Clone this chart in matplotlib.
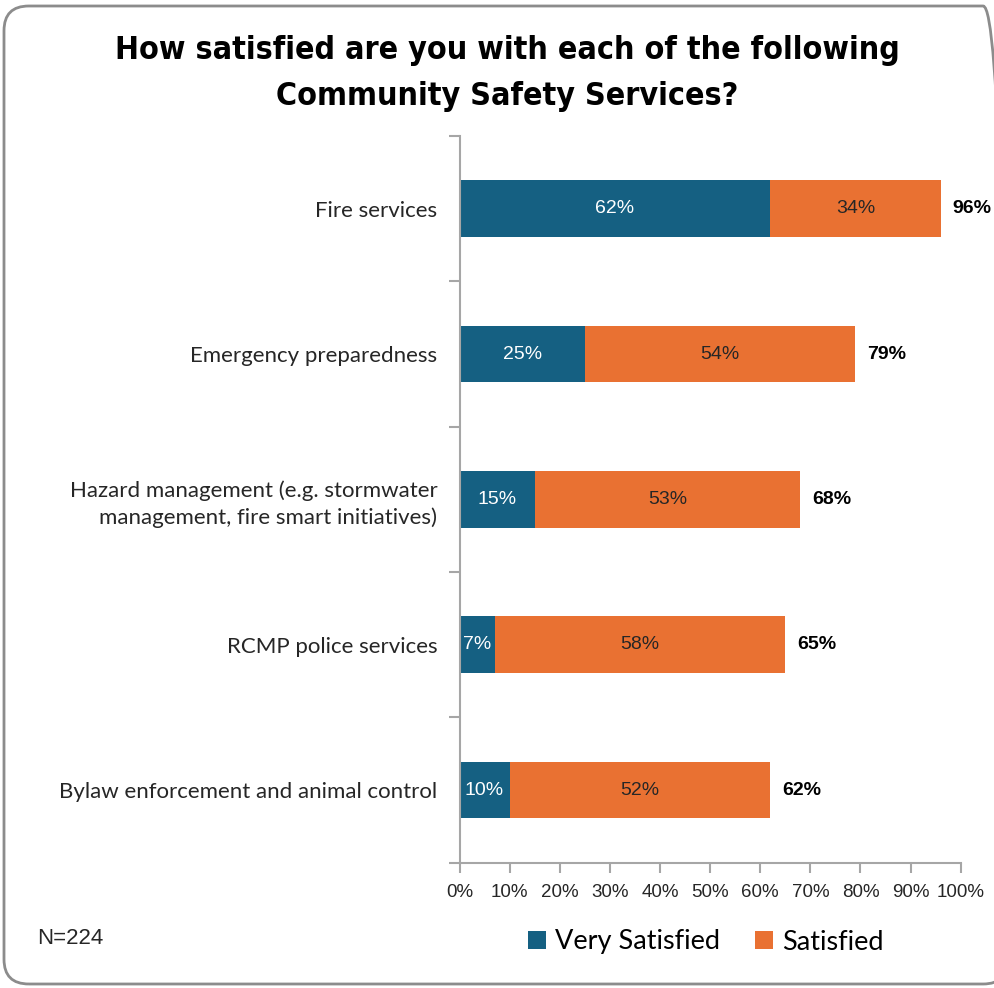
import matplotlib
matplotlib.use("Agg")
import matplotlib.pyplot as plt
from matplotlib.patches import FancyBboxPatch, Patch
import numpy as np

categories = [
    "Fire services",
    "Emergency preparedness",
    "Hazard management (e.g. stormwater\nmanagement, fire smart initiatives)",
    "RCMP police services",
    "Bylaw enforcement and animal control",
]
very_satisfied = [62, 25, 15, 7, 10]
satisfied = [34, 54, 53, 58, 52]
totals = [96, 79, 68, 65, 62]
x_ticks = [0, 10, 20, 30, 40, 50, 60, 70, 80, 90, 100]

BLUE = "#156082"
ORANGE = "#E97132"
AXIS_GRAY = "#A6A6A6"
TEXT = "#262626"

W, H = 994, 988
fig = plt.figure(figsize=(W / 100, H / 100), dpi=100)
fig.patch.set_facecolor("white")

# rounded outer frame
frame = FancyBboxPatch((4 / W, 4 / H), 1004 / W, 978 / H,
                       boxstyle="round,pad=0,rounding_size=0.025",
                       transform=fig.transFigure, fill=False,
                       edgecolor="#8C8C8C", linewidth=2.0, clip_on=False)
fig.patches.append(frame)

left, right = 459.5 / W, 960.7 / W
top, bottom = 1 - 136 / H, 1 - 862.7 / H
ax = fig.add_axes([left, bottom, right - left, top - bottom])

y = np.arange(len(categories))
bar_h = 0.39
ax.barh(y, very_satisfied, height=bar_h, color=BLUE, zorder=2)
ax.barh(y, satisfied, left=very_satisfied, height=bar_h, color=ORANGE, zorder=2)

label_font = dict(family=["Liberation Sans", "DejaVu Sans"], size=14)
for i in range(len(categories)):
    v, s, t = very_satisfied[i], satisfied[i], totals[i]
    ax.text(v / 2, y[i], f"{v}%", ha="center", va="center", color="white", **label_font)
    ax.text(v + s / 2, y[i], f"{s}%", ha="center", va="center", color=TEXT, **label_font)
    ax.text(v + s + 2.4, y[i], f"{t}%", ha="left", va="center", color="black",
            fontweight="bold", **label_font)

ax.set_xlim(0, 100)
ax.set_ylim(len(categories) - 0.5, -0.5)

ax.set_xticks(x_ticks)
ax.set_xticklabels([f"{t}%" for t in x_ticks],
                   fontfamily=["Liberation Sans", "DejaVu Sans"], fontsize=13.5, color=TEXT)
ax.tick_params(axis="x", direction="out", length=7, width=1.5, color=AXIS_GRAY, pad=8)

ax.set_yticks(y)
ax.set_yticklabels(categories, fontfamily=["Lato", "DejaVu Sans"], fontsize=16,
                   color=TEXT, linespacing=1.35, ha="right")
ax.tick_params(axis="y", which="major", length=0, pad=16)
ax.set_yticks(np.arange(-0.5, len(categories), 1.0), minor=True)
ax.tick_params(axis="y", which="minor", direction="out", length=8, width=1.5, color=AXIS_GRAY)

for side in ("top", "right"):
    ax.spines[side].set_visible(False)
for side in ("left", "bottom"):
    ax.spines[side].set_color(AXIS_GRAY)
    ax.spines[side].set_linewidth(1.5)

# title
title_font = dict(fontsize=23, fontweight="bold", fontstretch="condensed",
                  fontfamily=["DejaVu Sans"], color="black")
fig.text(507 / W, 1 - 50 / H, "How satisfied are you with each of the following",
         ha="center", va="center", **title_font)
fig.text(507 / W, 1 - 97 / H, "Community Safety Services?",
         ha="center", va="center", **title_font)

fig.text(37 / W, 1 - 938 / H, "N=224", ha="left", va="center",
         fontfamily=["Liberation Sans", "DejaVu Sans"], fontsize=16, color=TEXT)

handles = [Patch(facecolor=BLUE, label="Very Satisfied"),
           Patch(facecolor=ORANGE, label="Satisfied")]
fig.legend(handles=handles, loc="center", bbox_to_anchor=(706 / W, 1 - 942 / H),
           ncol=2, frameon=False, handlelength=0.65, handleheight=0.65,
           handletextpad=0.35, columnspacing=1.3,
           prop=dict(family=["Lato", "DejaVu Sans"], size=19.5))

fig.savefig("out.png", dpi=100, facecolor="white")
